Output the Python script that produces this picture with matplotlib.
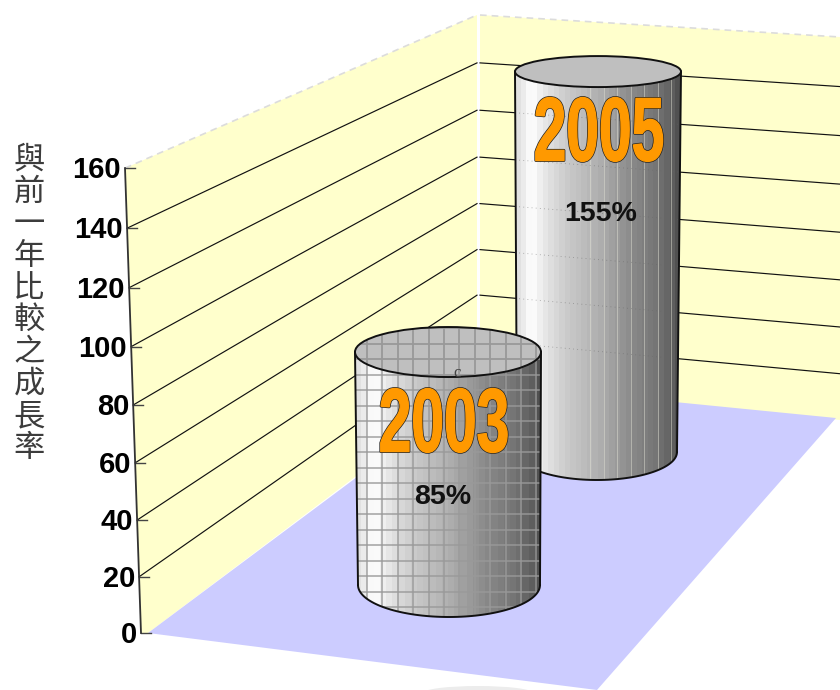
import numpy as np
import matplotlib
matplotlib.use("Agg")
import matplotlib.pyplot as plt
from matplotlib.path import Path
from matplotlib.patches import PathPatch, Polygon, Ellipse
from matplotlib.patheffects import AbstractPathEffect
from matplotlib.transforms import Affine2D

years = ["2003", "2005"]
growth = [85, 155]
growth_labels = ["85%", "155%"]
ticks = [0, 20, 40, 60, 80, 100, 120, 140, 160]
axis_title = "與前 一年比較之成長率"

WALL = "#FFFFCC"
FLOOR = "#CCCCFF"


class Squeezed(AbstractPathEffect):
    # narrow the glyphs around cx, fatten them and give them a dark outline
    def __init__(self, cx, sx, lw):
        super().__init__()
        self.cx, self.sx, self.lw = cx, sx, lw

    def draw_path(self, renderer, gc, tpath, affine, rgbFace):
        squeeze = Affine2D().translate(-self.cx, 0).scale(self.sx, 1).translate(self.cx, 0)
        for lw, edge in [(self.lw + 1.0, "#222222"), (self.lw, "#FF9900")]:
            gc2 = renderer.new_gc()
            gc2.copy_properties(gc)
            gc2.set_linewidth(lw)
            gc2.set_foreground(edge)
            renderer.draw_path(gc2, tpath, affine + squeeze, rgbFace)
            gc2.restore()


def wall_frac(v):
    # the value axis is slightly foreshortened towards the top
    return (2.796 * v / (1 - 0.000236 * v)) / 465.0


def left_pt(v):
    f = wall_frac(v)
    return 141 - 16 * f, 633 - 465 * f


def corner_pt(v):
    return 479, 385 - 370 * wall_frac(v)


def right_pt(v):
    return 840, 420 - 383 * wall_frac(v)


def px_per_unit(base_y):
    return 2.31 + 0.002155 * (base_y - 385)


def back_line_y(v, x):
    x0, y0 = corner_pt(v)
    x1, y1 = right_pt(v)
    return y0 + (y1 - y0) * (x - x0) / (x1 - x0)


def draw_cylinder(ax, value, cx_b, base_y, a_b, b_b, cx_t, a_t, b_t, z):
    top_y = base_y - value * px_per_unit(base_y)
    t = np.linspace(np.pi, 0, 80)
    arc_x = cx_b + a_b * np.cos(t)
    arc_y = base_y + b_b * np.sin(t)
    verts = [(cx_t - a_t, top_y)] + list(zip(arc_x, arc_y)) + [(cx_t + a_t, top_y)]
    # closing the body along the top ellipse's upper half keeps the shading under it
    t2 = np.linspace(0, np.pi, 40)
    verts += list(zip(cx_t + a_t * np.cos(t2), top_y - b_t * np.sin(t2)))
    body = Path(verts + [verts[0]], closed=True)
    patch = PathPatch(body, fc="none", ec="none", zorder=z)
    ax.add_patch(patch)

    # stepped metallic shading from left to right
    u = (np.arange(30) + 0.5) / 30
    grey = np.interp(u, [0, 0.05, 0.1, 0.17, 0.3, 0.5, 0.7, 0.85, 0.95, 1],
                     [0.86, 0.92, 1.0, 0.91, 0.80, 0.69, 0.54, 0.46, 0.37, 0.3])
    left, right = cx_t - a_t, cx_t + a_t
    im = ax.imshow(grey[None, :], cmap="gray", vmin=0, vmax=1, aspect="auto",
                   extent=(left, right, base_y + b_b, top_y - b_t),
                   interpolation="nearest", zorder=z)
    im.set_clip_path(patch)

    cap = Ellipse((cx_t, top_y), 2 * a_t, 2 * b_t, fc="#BFBFBF", ec="none", zorder=z + 0.1)
    ax.add_patch(cap)
    return top_y, patch, cap, (arc_x, arc_y), (left, right)


fig = plt.figure(figsize=(8.4, 6.9), dpi=100)
ax = fig.add_axes([0, 0, 1, 1])

# walls and floor
ax.add_patch(Ellipse((478, 693), 110, 14, fc="#ECECEC", ec="none", zorder=0))
ax.add_patch(Polygon([left_pt(160), (477, 15), (477, 385), (148, 633), left_pt(0)],
                     fc=WALL, ec="none", zorder=1))
ax.add_patch(Polygon([(480, 15), (840, 37), (840, 420), (480, 385)],
                     fc=WALL, ec="none", zorder=1))
ax.add_patch(Polygon([(148, 633), (483, 383), (836, 418), (597, 690)],
                     fc=FLOOR, ec="none", zorder=2))

# dashed top edge of the walls
for a, b in [(left_pt(160), (477, 15)), ((480, 15), (840, 37))]:
    ax.plot([a[0], b[0]], [a[1], b[1]], color="#DCDCDC", lw=1.2, ls=(0, (4, 3)), zorder=1.5)

# gridlines, axis and tick marks
for v in ticks:
    lx, ly = left_pt(v)
    if 0 < v < 160:
        cx, cy = corner_pt(v)
        rx, ry = right_pt(v)
        ax.plot([lx, 477], [ly, cy], color="#111111", lw=0.85, zorder=1.6)
        ax.plot([480, rx], [cy, ry], color="#111111", lw=0.85, zorder=1.6)
    ax.plot([lx, lx + 10], [ly, ly], color="#444444", lw=1.0, zorder=3)
    ax.text(lx - 4, ly + 2, str(v), ha="right", va="center", fontsize=21,
            fontweight="bold", family="Liberation Sans", color="#000000", zorder=6)
ax.plot(*zip(left_pt(0), left_pt(160)), color="#333333", lw=1.3, zorder=3)

# vertical axis title, one character per row
row_y = 160
for ch in axis_title:
    if ch == " ":
        continue
    ax.text(29, row_y, ch, ha="center", va="center", fontsize=22.5,
            family=["Noto Sans CJK TC", "DejaVu Sans"], color="#3C3C3C",
            fontweight="light", zorder=6)
    row_y += 32

# 2005 stands behind 2003
top, patch, cap, arc, (l, r) = draw_cylinder(ax, growth[1], 597, 452, 80, 28, 598, 83, 15.5, 4)
for x in np.arange(590, r, 13.5):
    ln, = ax.plot([x, x], [top, 490], color="#E6E6D8", lw=0.6, alpha=0.55, zorder=4.05)
    ln.set_clip_path(patch)
for v in ticks[1:8]:
    ln, = ax.plot([l, r], [back_line_y(v, l), back_line_y(v, r)], color="#666666",
                  lw=0.6, ls=(0, (1, 4)), alpha=0.6, zorder=4.05)
    ln.set_clip_path(patch)
ax.plot([l, 517], [top, 452], color="#111111", lw=1.4, zorder=4.2)
ax.plot([r, 677], [top, 452], color="#111111", lw=1.4, zorder=4.2)
ax.plot(*arc, color="#111111", lw=1.4, zorder=4.2)
ax.add_patch(Ellipse((598, top), 166, 31, fc="none", ec="#111111", lw=1.4, zorder=4.3))

top, patch, cap, arc, (l, r) = draw_cylinder(ax, growth[0], 449, 585, 91, 32, 448, 93, 25, 5)
for x in np.arange(367, r, 15.4):
    for clip in (patch, cap):
        ln, = ax.plot([x, x], [top - 30, 625], color="#999999", lw=1.25, alpha=0.8, zorder=5.15)
        ln.set_clip_path(clip)
for y in np.arange(607, top - 30, -15.5):
    for clip in (patch, cap):
        ln, = ax.plot([l, r], [y, y], color="#999999", lw=1.25, alpha=0.8, zorder=5.15)
        ln.set_clip_path(clip)
ax.plot([l, 358], [top, 585], color="#111111", lw=1.4, zorder=5.2)
ax.plot([r, 540], [top, 585], color="#111111", lw=1.4, zorder=5.2)
ax.plot(*arc, color="#111111", lw=1.4, zorder=5.2)
ax.add_patch(Ellipse((448, top), 186, 50, fc="none", ec="#111111", lw=1.4, zorder=5.3))
ax.text(457, 373, "c", ha="center", va="center", fontsize=12,
        family="Liberation Serif", color="#444444", zorder=5.4)

# year captions and growth labels on the cylinders
for year, label, cx, yy, ly in zip(years, growth_labels, [444, 599], [428, 137], [497, 214]):
    txt = ax.text(cx, yy, year, ha="center", va="center", fontsize=65, fontweight="bold",
                  family="Liberation Sans", color="#FF9900", zorder=7)
    txt.set_path_effects([Squeezed(cx, 0.65, 1.0)])
    ax.text(cx - 1 if year == "2003" else cx + 2, ly, label, ha="center", va="center",
            fontsize=20.5, fontweight="bold", family="Liberation Sans",
            color="#111111", zorder=7)

ax.set_xlim(0, 840)
ax.set_ylim(690, 0)
ax.axis("off")
fig.savefig("out.png", dpi=100)
